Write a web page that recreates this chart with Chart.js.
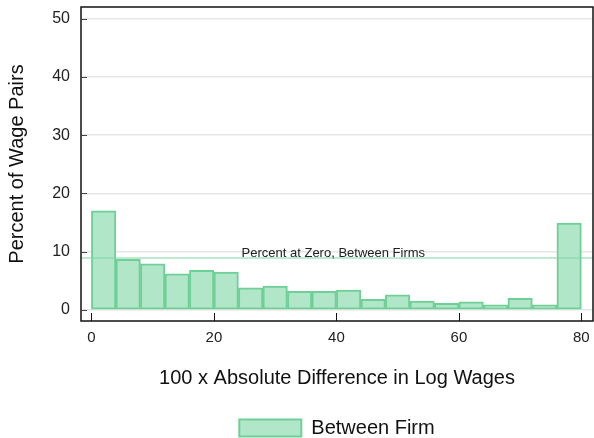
<!DOCTYPE html>
<html>
<head>
<meta charset="utf-8">
<script src="https://cdn.jsdelivr.net/npm/chart.js@4.4.1/dist/chart.umd.min.js"></script>
<style>
  html, body { margin: 0; padding: 0; background: #fff; }
  #wrap { width: 594px; height: 438px; }
</style>
</head>
<body>
<div id="wrap"><canvas id="c" width="594" height="438"></canvas></div>
<script>
// Histogram bins (lower edge of each 4-point bin) and their shares
const binStarts = [0, 4, 8, 12, 16, 20, 24, 28, 32, 36, 40, 44, 48, 52, 56, 60, 64, 68, 72, 76];
const binWidth = 4;
const betweenFirmPct = [17.0, 8.7, 7.9, 6.2, 6.8, 6.5, 3.8, 4.1, 3.2, 3.2, 3.4, 1.8, 2.6, 1.5, 1.15, 1.4, 0.86, 2.0, 0.86, 14.9];
const pctAtZeroBetween = 8.9;
const xTicks = [0, 20, 40, 60, 80];
const yTicks = [0, 10, 20, 30, 40, 50];

const FONT = "'Liberation Sans', Arial, Helvetica, sans-serif";
const fillGreen = 'rgba(178,230,200,1)';
const edgeGreen = 'rgba(110,208,150,1)';

const barPoints = binStarts.map((s, i) => ({ x: s + binWidth / 2, y: betweenFirmPct[i] }));

// Frame, inside ticks and the reference-line caption
const decor = {
  id: 'decor',
  afterDraw(chart) {
    const { ctx, chartArea: a, scales } = chart;
    ctx.save();
    ctx.strokeStyle = '#111';
    ctx.lineWidth = 1.5;
    ctx.strokeRect(a.left, a.top, a.right - a.left, a.bottom - a.top);
    ctx.lineWidth = 1;
    xTicks.forEach(v => {
      const px = Math.round(scales.x.getPixelForValue(v)) + 0.5;
      ctx.beginPath();
      ctx.moveTo(px, a.bottom);
      ctx.lineTo(px, a.bottom - 8);
      ctx.stroke();
    });
    ctx.strokeStyle = '#444';
    yTicks.forEach(v => {
      const py = Math.round(scales.y.getPixelForValue(v)) + 0.5;
      ctx.beginPath();
      ctx.moveTo(a.left, py);
      ctx.lineTo(a.left + 6, py);
      ctx.stroke();
    });
    ctx.fillStyle = '#222';
    ctx.font = '13px ' + FONT;
    ctx.textAlign = 'center';
    ctx.textBaseline = 'alphabetic';
    ctx.fillText('Percent at Zero, Between Firms',
      scales.x.getPixelForValue(39.5), scales.y.getPixelForValue(pctAtZeroBetween) - 1);
    ctx.restore();
  }
};

new Chart(document.getElementById('c'), {
  data: {
    datasets: [
      {
        type: 'bar',
        label: 'Between Firm',
        data: barPoints,
        backgroundColor: fillGreen,
        borderColor: edgeGreen,
        borderWidth: 2,
        borderSkipped: false,
        barPercentage: 1,
        categoryPercentage: 1,
        order: 2
      },
      {
        type: 'line',
        label: 'Percent at Zero, Between Firms',
        data: [{ x: -1.7, y: pctAtZeroBetween }, { x: 81.9, y: pctAtZeroBetween }],
        borderColor: 'rgba(130,215,165,0.7)',
        borderWidth: 1.5,
        pointRadius: 0,
        order: 1
      }
    ]
  },
  options: {
    responsive: false,
    animation: false,
    devicePixelRatio: 1,
    layout: { padding: { top: 7, right: 1, left: 0, bottom: -10 } },
    plugins: {
      tooltip: { enabled: false },
      legend: {
        position: 'bottom',
        fullSize: false,
        labels: {
          filter: item => item.text === 'Between Firm',
          boxWidth: 62,
          boxHeight: 17,
          padding: 1,
          color: '#111',
          font: { family: FONT, size: 20 }
        }
      }
    },
    scales: {
      x: {
        type: 'linear',
        offset: false,
        min: -1.7,
        max: 81.9,
        afterBuildTicks: s => { s.ticks = xTicks.map(v => ({ value: v })); },
        afterFit: s => { s.height = 96; s.paddingLeft = 0; s.paddingRight = 0; },
        grid: { display: false },
        border: { display: false },
        ticks: { color: '#222', font: { family: FONT, size: 15 }, padding: 0, maxRotation: 0 },
        title: {
          display: true,
          text: '100 x Absolute Difference in Log Wages',
          color: '#111',
          font: { family: FONT, size: 20 },
          padding: { top: 4, bottom: 27 }
        }
      },
      y: {
        min: -1.9,
        max: 52,
        afterBuildTicks: s => { s.ticks = yTicks.map(v => ({ value: v })); },
        afterFit: s => { s.width = 81; s.paddingTop = 0; s.paddingBottom = 0; },
        grid: { color: '#e6e6e6', lineWidth: 1.5, drawTicks: false },
        border: { display: false },
        ticks: { color: '#222', font: { family: FONT, size: 16 }, padding: 11 },
        title: {
          display: true,
          text: 'Percent of Wage Pairs',
          color: '#111',
          font: { family: FONT, size: 20 },
          padding: { top: 5, bottom: 0 }
        }
      }
    }
  },
  plugins: [decor]
});
</script>
</body>
</html>
